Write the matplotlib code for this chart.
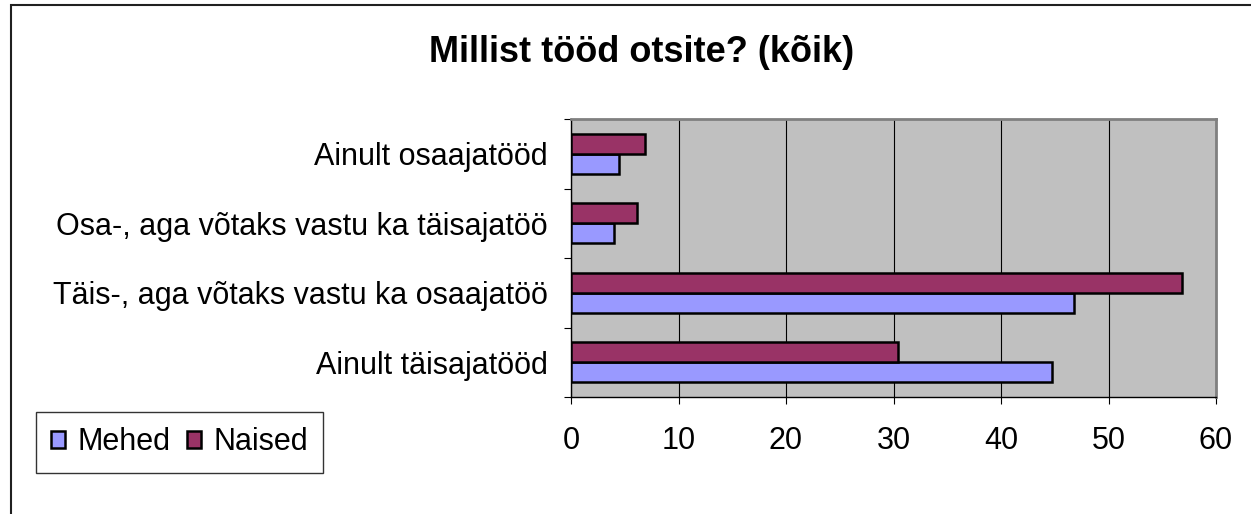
import matplotlib.pyplot as plt
import numpy as np
from matplotlib.patches import Rectangle, Patch

plt.rcParams['font.family'] = ['Liberation Sans', 'DejaVu Sans']

# categories bottom -> top, as Excel draws them
categories = ["Ainult täisajatööd",
              "Täis-, aga võtaks vastu ka osaajatöö",
              "Osa-, aga võtaks vastu ka täisajatöö",
              "Ainult osaajatööd"]
mehed = [44.7, 46.8, 4.0, 4.5]
naised = [30.4, 56.8, 6.1, 6.9]
series_names = ["Mehed", "Naised"]
xticks = [0, 10, 20, 30, 40, 50, 60]

c_mehed = "#9999FF"
c_naised = "#993366"

fig = plt.figure(figsize=(12.51, 5.14), dpi=100)
ax = fig.add_axes([571/1251, 1-397/514, (1216-571)/1251, (397-119)/514])
ax.set_facecolor("#C0C0C0")

y = np.arange(len(categories))
h = 0.285
ax.barh(y - h/2, mehed, height=h, color=c_mehed, edgecolor="black", linewidth=1.8, zorder=3)
ax.barh(y + h/2, naised, height=h, color=c_naised, edgecolor="black", linewidth=1.8, zorder=3)

ax.set_xlim(0, 60)
ax.set_ylim(-0.5, len(categories) - 0.5)
ax.set_xticks(xticks)
ax.set_xticklabels([str(v) for v in xticks], fontsize=22)
ax.set_yticks(y)
ax.set_yticklabels(categories, fontsize=22)
ax.set_yticks(np.arange(len(categories) + 1) - 0.5, minor=True)
ax.tick_params(axis='y', which='major', length=0, pad=16.5)
ax.tick_params(axis='y', which='minor', length=5, width=0.8, color='black', direction='out')
ax.tick_params(axis='x', length=5, width=0.8, color='black', pad=16)
ax.xaxis.grid(True, color='black', linewidth=0.8, zorder=1)
ax.set_axisbelow(True)

for side in ['top', 'right']:
    ax.spines[side].set_color('#808080')
    ax.spines[side].set_linewidth(2)
for side in ['left', 'bottom']:
    ax.spines[side].set_color('black')
    ax.spines[side].set_linewidth(1)

fig.text(0.513, 1 - 52/514, "Millist tööd otsite? (kõik)", fontsize=26,
         fontweight='bold', ha='center', va='center')

# chart area border (open at right and bottom as in the picture)
fig.patches.append(Rectangle((11/1251, -0.2), 1.2, 1.2 - 5/514, transform=fig.transFigure,
                             fill=False, edgecolor='#202020', linewidth=1.5))

handles = [Patch(facecolor=c_mehed, edgecolor='black', linewidth=1.8),
           Patch(facecolor=c_naised, edgecolor='black', linewidth=1.8)]
leg = fig.legend(handles, series_names, loc='upper left',
                 bbox_to_anchor=(36/1251, 1 - 412/514),
                 ncol=2, fontsize=22, frameon=True, fancybox=False,
                 handlelength=0.45, handleheight=0.45, handletextpad=0.4,
                 columnspacing=0.55, borderaxespad=0, borderpad=0.5)
leg.get_frame().set_edgecolor('black')
leg.get_frame().set_linewidth(1)

fig.savefig("out.png", dpi=100)
